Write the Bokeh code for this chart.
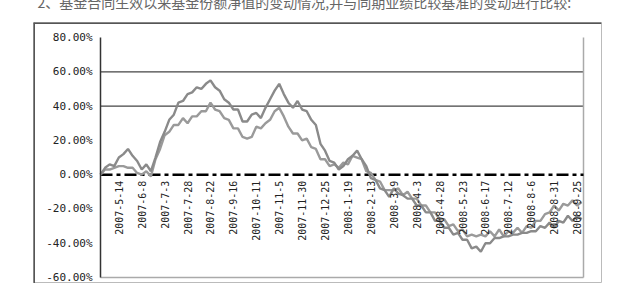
import numpy as np
import pandas as pd
from bokeh.plotting import figure
from bokeh.models import Range1d, Span
from bokeh.embed import file_html
from bokeh.resources import INLINE
from bokeh.core.properties import value

title_text = "2、基金合同生效以来基金份额净值的变动情况,并与同期业绩比较基准的变动进行比较:"

start_date = "2007-04-24"
step_days = 5
range_days = 527

fund_nav = [0, 4, 6, 5, 10, 12, 15, 11, 8, 3,
            6, 2, 10, 19, 25, 32, 35, 42, 43, 47,
            48, 51, 50, 53, 55, 51, 49, 44, 42, 38,
            38, 31, 31, 35, 36, 33, 39, 44, 49, 53,
            47, 42, 39, 43, 38, 37, 32, 29, 18, 14,
            8, 7, 3, 5, 9, 11, 14, 9, 5, -2,
            -3, -8, -9, -13, -8, -11, -12, -14, -14, -18,
            -18, -22, -22, -27, -27, -31, -31, -35, -34, -38,
            -38, -43, -42, -45, -40, -40, -37, -37, -36, -36,
            -35, -35, -34, -34, -33, -33, -30, -31, -28, -31,
            -27, -28, -24, -27, -24, -26]

benchmark = [0, 3, 3, 4, 5, 5, 4, 4, 1, 0,
             2, -1, 9, 15, 23, 25, 29, 29, 33, 30,
             34, 34, 37, 37, 42, 38, 37, 33, 32, 27,
             27, 22, 21, 22, 28, 27, 30, 32, 37, 39,
             34, 28, 24, 24, 20, 21, 16, 15, 9, 9,
             5, 6, 4, 7, 6, 11, 10, 9, 2, 1,
             -3, -4, -9, -9, -9, -8, -12, -10, -14, -14,
             -18, -18, -22, -22, -26, -26, -30, -29, -33, -32,
             -36, -35, -36, -35, -36, -33, -36, -32, -36, -33,
             -34, -31, -34, -30, -31, -27, -27, -23, -22, -18,
             -21, -17, -18, -15, -18, -16]

y_ticks = [-60, -40, -20, 0, 20, 40, 60, 80]
y_tick_labels = ["-60.00%", "-40.00%", "-20.00%", "0.00%", "20.00%", "40.00%", "60.00%", "80.00%"]
grid_levels = [40, 60]
label_first = 4
label_every = 5

# layout: chart box (page px 33..601 x 23..283), plot area (100..583 x 38..277)
px_per_day = 483 / range_days
px_per_unit = 239 / (y_ticks[-1] - y_ticks[0])
pad_left_days, pad_right_days = 67 / px_per_day, 18 / px_per_day
pad_top_units, pad_bottom_units = 15 / px_per_unit, 6 / px_per_unit

dates = pd.date_range(start_date, periods=len(fund_nav), freq=f"{step_days}D")
x0 = dates[0]
x1 = dates[0] + pd.Timedelta(days=range_days)

label_dates = list(dates[label_first::label_every])
label_texts = [f"{d.year}-{d.month}-{d.day}" for d in label_dates]

p = figure(width=611, height=305, output_backend="svg", toolbar_location=None,
           x_axis_location=None, y_axis_location=None,
           x_range=Range1d((x0 - pd.Timedelta(days=pad_left_days)).to_pydatetime(),
                           (x1 + pd.Timedelta(days=pad_right_days)).to_pydatetime()),
           y_range=Range1d(y_ticks[0] - pad_bottom_units, y_ticks[-1] + pad_top_units),
           min_border_left=25, min_border_right=18, min_border_top=0, min_border_bottom=0,
           margin=(-22, 0, 0, 8))
p.background_fill_color = "white"
p.border_fill_color = "white"
p.grid.visible = False
p.outline_line_color = "#bbbbbb"
p.outline_line_width = 1

p.title.text = title_text
p.title.text_font = "Noto Sans CJK SC"
p.title.text_font_size = "14px"
p.title.text_font_style = "normal"
p.title.text_color = "#666666"
p.title.align = "left"
p.title.offset = 4
p.title.standoff = 22

# darker top and left edges of the chart box
p.add_layout(Span(location=p.y_range.end, dimension="width", line_color="#555555", line_width=3))
p.add_layout(Span(location=p.x_range.start, dimension="height", line_color="#555555", line_width=3))

xs0 = x0.to_pydatetime()
xs1 = x1.to_pydatetime()

# horizontal reference lines
p.segment(x0=[xs0] * len(grid_levels), x1=[xs1] * len(grid_levels),
          y0=grid_levels, y1=grid_levels, line_color="#444444", line_width=1.3)
# plot-area right and bottom borders
p.segment(x0=[xs1, xs0], x1=[xs1, xs1], y0=[y_ticks[0], y_ticks[0]], y1=[y_ticks[-1], y_ticks[0]],
          line_color="#aaaaaa", line_width=1.5)
# zero line
p.segment(x0=[xs0], x1=[xs1], y0=[0], y1=[0], line_color="black", line_width=2.5,
          line_dash="12 4 4 4")

p.line(dates, benchmark, line_color="#9a9a9a", line_width=2.4)
p.line(dates, fund_nav, line_color="#8a8a8a", line_width=2.4)

# value axis
p.segment(x0=[xs0], x1=[xs0], y0=[y_ticks[0]], y1=[y_ticks[-1]], line_color="#333333", line_width=1.5)
p.text(x=[xs0] * len(y_ticks), y=y_ticks, text=y_tick_labels, x_offset=-8,
       text_align="right", text_baseline="middle",
       text_font=value("DejaVu Sans Mono"), text_font_size="11px", text_color="#222222")

# date labels hanging below the zero line
p.text(x=label_dates, y=[0] * len(label_dates), text=label_texts, angle=np.pi / 2,
       text_align="right", text_baseline="middle", y_offset=6,
       text_font=value("DejaVu Sans Mono"), text_font_size="10px", text_color="#222222")

open("out.html", "w").write(file_html(p, INLINE))
